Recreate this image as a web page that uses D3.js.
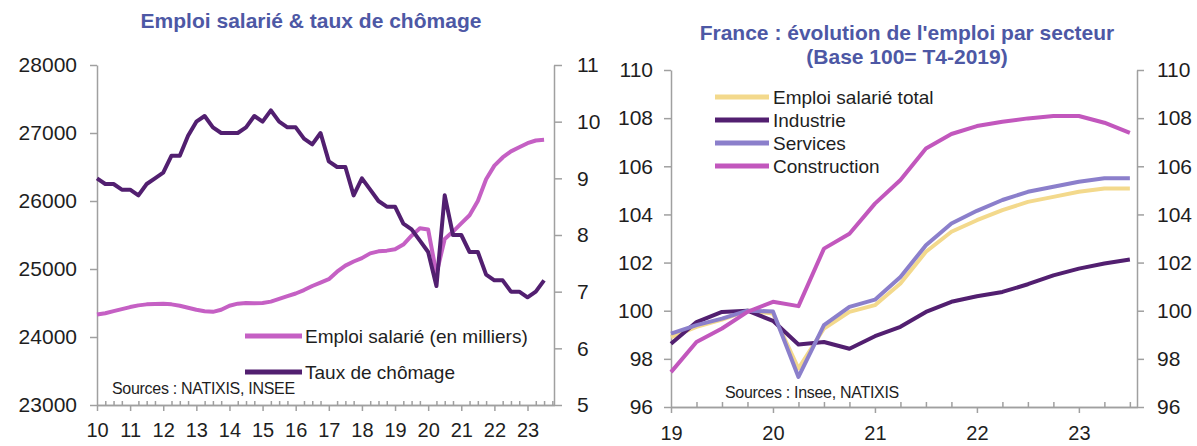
<!DOCTYPE html>
<html>
<head>
<meta charset="utf-8">
<script src="https://cdn.jsdelivr.net/npm/d3@7"></script>
<style>
body { margin: 0; background: #fff; }
svg { display: block; font-family: "Liberation Sans", Arial, sans-serif; }
</style>
</head>
<body>
<script>
const width = 1197
const height = 446

const titleColor = "#4d58a5"
const axisColor = "#a0a0a0"
const textColor = "#1e1e1e"

// left chart, quarterly data from 2010 Q1 to 2023 Q3
const leftStart = 2010
const emploi = [
  24330, 24350, 24380, 24410,
  24440, 24465, 24480, 24485,
  24490, 24480, 24460, 24430,
  24400, 24380, 24370, 24400,
  24460, 24490, 24500, 24495,
  24500, 24520, 24560, 24600,
  24640, 24690, 24750, 24800,
  24850, 24960, 25050, 25110,
  25160, 25230, 25260, 25270,
  25290, 25360, 25490, 25600,
  25580, 24930, 25440, 25550,
  25670, 25790, 26000, 26320,
  26520, 26640, 26730, 26790,
  26850, 26890, 26900
]
const chomage = [
  9.0, 8.9, 8.9, 8.8,
  8.8, 8.7, 8.9, 9.0,
  9.1, 9.4, 9.4, 9.75,
  10.0, 10.1, 9.9, 9.8,
  9.8, 9.8, 9.9, 10.1,
  10.0, 10.2, 10.0, 9.9,
  9.9, 9.7, 9.6, 9.8,
  9.3, 9.2, 9.2, 8.7,
  9.0, 8.8, 8.6, 8.5,
  8.5, 8.2, 8.1, 7.9,
  7.7, 7.1, 8.7, 8.0,
  8.0, 7.7, 7.7, 7.3,
  7.2, 7.2, 7.0, 7.0,
  6.9, 7.0, 7.2
]
const leftYears = [2010, 2011, 2012, 2013, 2014, 2015, 2016, 2017, 2018, 2019, 2020, 2021, 2022, 2023]
const emploiTicks = [23000, 24000, 25000, 26000, 27000, 28000]
const chomageTicks = [5, 6, 7, 8, 9, 10, 11]

// right chart, quarterly data from 2019 Q1 to 2023 Q3 (base 100 = T4-2019)
const rightStart = 2019
const sectorNames = ["Emploi salarié total", "Industrie", "Services", "Construction"]
const total = [98.9, 99.33, 99.63, 100, 99.88, 97.6, 99.26, 99.95, 100.23, 101.13, 102.45, 103.28, 103.76, 104.18, 104.52, 104.73, 104.94, 105.08, 105.08]
const industrie = [98.63, 99.53, 99.95, 100, 99.58, 98.6, 98.7, 98.42, 98.94, 99.33, 99.95, 100.37, 100.6, 100.78, 101.1, 101.47, 101.75, 101.96, 102.13]
const services = [99.05, 99.4, 99.67, 100, 99.97, 97.25, 99.4, 100.16, 100.46, 101.4, 102.72, 103.62, 104.15, 104.6, 104.94, 105.15, 105.36, 105.5, 105.5]
const construction = [97.45, 98.7, 99.26, 99.95, 100.37, 100.19, 102.58, 103.2, 104.45, 105.43, 106.74, 107.34, 107.67, 107.85, 107.99, 108.09, 108.09, 107.81, 107.39]
const rightYears = [2019, 2020, 2021, 2022, 2023]
const indexTicks = [96, 98, 100, 102, 104, 106, 108, 110]

const sectorColors = ["#f3d98c", "#521f70", "#8b7fcb", "#c257bd"]
const emploiColor = "#c560c4"
const chomageColor = "#521f70"

var svg = d3.select("body").append("svg")
  .attr("width", width)
  .attr("height", height)

svg.append("defs").append("clipPath").attr("id", "leftClip")
  .append("rect").attr("x", 0).attr("y", 0).attr("width", 600).attr("height", height)

const styleAxis = (g, size) => {
  g.select(".domain").attr("stroke", axisColor).attr("stroke-width", 1.5)
  g.selectAll(".tick line").attr("stroke", axisColor).attr("stroke-width", 1.5)
  g.selectAll(".tick text").attr("fill", textColor).style("font-size", size + "px")
}

const quarters = (start, n) => d3.range(n).map(i => start + i / 4)

// ---------- left chart ----------
var left = svg.append("g").attr("clip-path", "url(#leftClip)")

var xL = d3.scaleLinear().domain([2010, 2023.8]).range([97, 554])
var yEmploi = d3.scaleLinear().domain([23000, 28000]).range([405, 65])
var yChomage = d3.scaleLinear().domain([5, 11]).range([405, 65])

left.append("text")
  .attr("x", 311).attr("y", 28)
  .attr("text-anchor", "middle")
  .attr("fill", titleColor)
  .style("font-size", "21px").style("font-weight", "bold")
  .text("Emploi salarié & taux de chômage")

// minor quarterly ticks (upwards)
var leftMinor = quarters(2010, 56).filter((d, i) => i % 4 != 0 && d < 2023.8)
left.append("g")
  .attr("transform", "translate(0,405)")
  .call(d3.axisBottom(xL).tickValues(leftMinor).tickSize(-4).tickSizeOuter(0).tickFormat(""))
  .call(g => styleAxis(g, 20))

left.append("g")
  .attr("transform", "translate(0,405)")
  .call(d3.axisBottom(xL).tickValues(leftYears).tickSize(6).tickSizeOuter(0).tickPadding(12)
    .tickFormat(d => String(d).slice(2)))
  .call(g => styleAxis(g, 20))

left.append("g")
  .attr("transform", "translate(97,0)")
  .call(d3.axisLeft(yEmploi).tickValues(emploiTicks).tickSize(7).tickSizeOuter(0).tickPadding(13)
    .tickFormat(d3.format("d")))
  .call(g => styleAxis(g, 21))

left.append("g")
  .attr("transform", "translate(554,0)")
  .call(d3.axisRight(yChomage).tickValues(chomageTicks).tickSize(8).tickSizeOuter(0).tickPadding(15)
    .tickFormat(d3.format("d")))
  .call(g => styleAxis(g, 21))

var tL = quarters(leftStart, emploi.length)

left.append("path")
  .datum(emploi)
  .attr("fill", "none")
  .attr("stroke", emploiColor)
  .attr("stroke-width", 4)
  .attr("stroke-linejoin", "round")
  .attr("d", d3.line().x((d, i) => xL(tL[i])).y(d => yEmploi(d)))

left.append("path")
  .datum(chomage)
  .attr("fill", "none")
  .attr("stroke", chomageColor)
  .attr("stroke-width", 4)
  .attr("stroke-linejoin", "round")
  .attr("d", d3.line().x((d, i) => xL(tL[i])).y(d => yChomage(d)))

// legend
var leftLegend = [["Emploi salarié (en milliers)", emploiColor, 336], ["Taux de chômage", chomageColor, 372]]
leftLegend.forEach(l => {
  left.append("line")
    .attr("x1", 245).attr("x2", 302).attr("y1", l[2]).attr("y2", l[2])
    .attr("stroke", l[1]).attr("stroke-width", 5)
  left.append("text")
    .attr("x", 305).attr("y", l[2]).attr("dy", "0.35em")
    .attr("fill", textColor).style("font-size", "19px")
    .text(l[0])
})

left.append("text")
  .attr("x", 112).attr("y", 394)
  .attr("fill", textColor)
  .style("font-size", "16px").style("letter-spacing", "-0.3px")
  .text("Sources : NATIXIS, INSEE")

// ---------- right chart ----------
var right = svg.append("g")

var xS = d3.scaleLinear().domain([2019, 2023.57]).range([671, 1137])
var yS = d3.scaleLinear().domain([96, 110]).range([407, 70])

right.append("text")
  .attr("x", 907).attr("y", 40)
  .attr("text-anchor", "middle")
  .attr("fill", titleColor)
  .style("font-size", "21px").style("font-weight", "bold")
  .text("France : évolution de l'emploi par secteur")

right.append("text")
  .attr("x", 907).attr("y", 64)
  .attr("text-anchor", "middle")
  .attr("fill", titleColor)
  .style("font-size", "21px").style("font-weight", "bold")
  .text("(Base 100= T4-2019)")

var rightMinor = quarters(2019, 19).filter((d, i) => i % 4 != 0)
right.append("g")
  .attr("transform", "translate(0,407)")
  .call(d3.axisBottom(xS).tickValues(rightMinor).tickSize(-5).tickSizeOuter(0).tickFormat(""))
  .call(g => styleAxis(g, 20))

right.append("g")
  .attr("transform", "translate(0,407)")
  .call(d3.axisBottom(xS).tickValues(rightYears).tickSize(6).tickSizeOuter(0).tickPadding(13)
    .tickFormat(d => String(d).slice(2)))
  .call(g => styleAxis(g, 20))

right.append("g")
  .attr("transform", "translate(671,0)")
  .call(d3.axisLeft(yS).tickValues(indexTicks).tickSize(7).tickSizeOuter(0).tickPadding(11))
  .call(g => styleAxis(g, 21))

right.append("g")
  .attr("transform", "translate(1137,0)")
  .call(d3.axisRight(yS).tickValues(indexTicks).tickSize(7).tickSizeOuter(0).tickPadding(13))
  .call(g => styleAxis(g, 21))

var tS = quarters(rightStart, total.length)
var sectorLine = d3.line().x((d, i) => xS(tS[i])).y(d => yS(d))

;[total, industrie, services, construction].forEach((s, k) => {
  right.append("path")
    .datum(s)
    .attr("fill", "none")
    .attr("stroke", sectorColors[k])
    .attr("stroke-width", 4)
    .attr("stroke-linejoin", "round")
    .attr("d", sectorLine)
})

sectorNames.forEach((name, k) => {
  var y = 97 + k * 23
  right.append("line")
    .attr("x1", 715).attr("x2", 769).attr("y1", y).attr("y2", y)
    .attr("stroke", sectorColors[k]).attr("stroke-width", 5)
  right.append("text")
    .attr("x", 773).attr("y", y).attr("dy", "0.35em")
    .attr("fill", textColor).style("font-size", "19px")
    .text(name)
})

right.append("text")
  .attr("x", 725).attr("y", 398)
  .attr("fill", textColor)
  .style("font-size", "16px").style("letter-spacing", "-0.3px")
  .text("Sources : Insee, NATIXIS")
</script>
</body>
</html>
